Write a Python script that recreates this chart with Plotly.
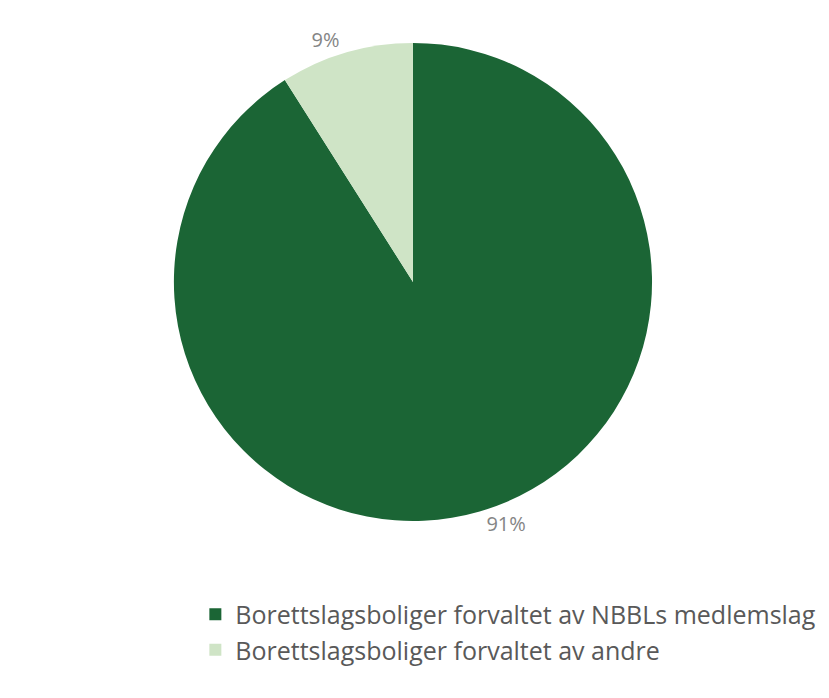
import plotly.graph_objects as go

labels = ["Borettslagsboliger forvaltet av NBBLs medlemslag", "Borettslagsboliger forvaltet av andre"]
values = [91, 9]
colors = ["#1B6535", "#CFE4C6"]

fig = go.Figure(go.Pie(
    labels=labels,
    values=values,
    sort=False,
    direction="clockwise",
    rotation=0,
    marker=dict(colors=colors, line=dict(width=0)),
    textinfo="percent",
    texttemplate="%{percent:.0%}",
    textposition="outside",
    outsidetextfont=dict(size=20, color="#858585", family="Open Sans"),
    textfont=dict(size=20, color="#858585", family="Open Sans"),
    domain=dict(x=[0.14, 0.837], y=[0.265, 0.95]),
    hoverinfo="label+percent",
))

fig.update_layout(
    width=829, height=698,
    margin=dict(l=0, r=0, t=0, b=0),
    paper_bgcolor="white",
    plot_bgcolor="white",
    showlegend=True,
    legend=dict(
        orientation="v",
        x=0.226, xanchor="left",
        y=0.164, yanchor="top",
        font=dict(size=25, color="#595959", family="Open Sans"),
        itemsizing="constant",
        bgcolor="rgba(0,0,0,0)",
    ),
)

fig.write_html("out.html")
